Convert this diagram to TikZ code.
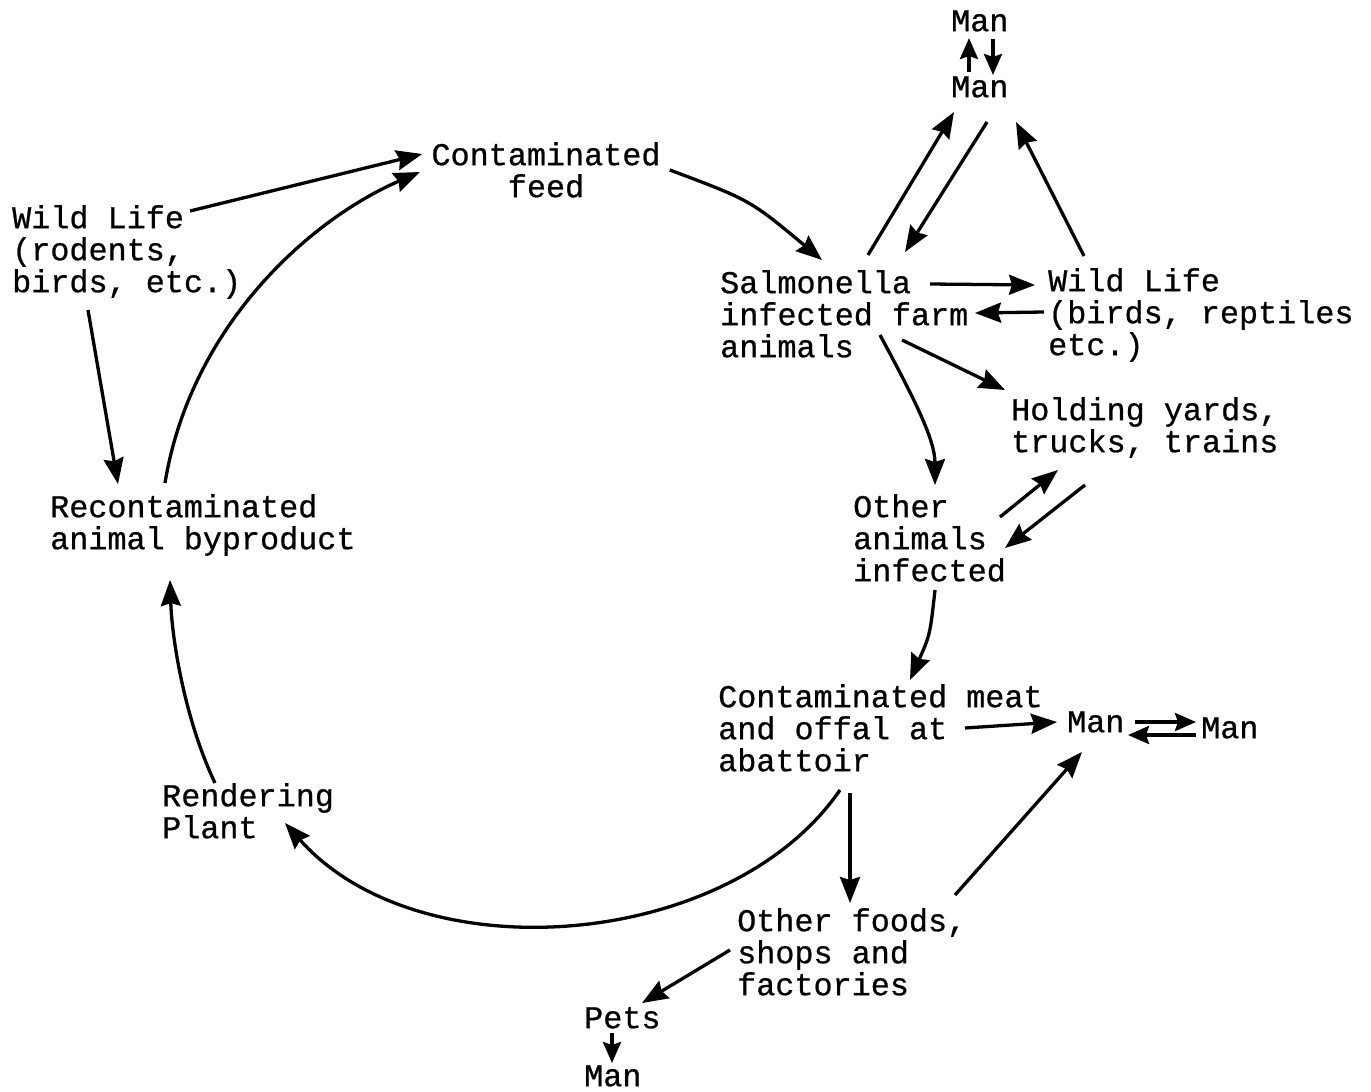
\documentclass[tikz,border=0pt]{standalone}
\usepackage{fontspec}
\newfontfamily\cour[FakeBold=0.7]{Liberation Mono}
\usetikzlibrary{arrows.meta}
\newcommand{\mystrut}{\rule{0pt}{29pt}}
\begin{document}
\lineskiplimit=-20pt\relax
\begin{tikzpicture}[x=1pt,y=-1pt,
  lbl/.style={inner sep=0pt, anchor=north west, align=left,
    font=\cour\fontsize{31.8}{32}\selectfont},
  arr/.style={line width=3.3pt, -{Stealth[length=26pt,width=20pt,inset=3pt]}},
  sarr/.style={line width=3.6pt, -{Stealth[length=21pt,width=18pt,inset=3pt]}}]
\useasboundingbox (0,0) rectangle (1371,1092);
% nodes
\node[lbl] (manA) at (951,2) {\mystrut Man};
\node[lbl] (manB) at (951,68) {\mystrut Man};
\node[lbl, anchor=north, align=center] (feed) at (546,136) {\mystrut Contaminated\\feed};
\node[lbl] (wlL) at (12,199) {\mystrut Wild Life\\(rodents,\\birds, etc.)};
\node[lbl] (sal) at (720,264) {\mystrut Salmonella\\infected farm\\animals};
\node[lbl] (wlR) at (1048,262) {\mystrut Wild Life\\(birds, reptiles\\etc.)};
\node[lbl] (hold) at (1011,391) {\mystrut Holding yards,\\trucks, trains};
\node[lbl] (oth) at (853,488) {\mystrut Other\\animals\\infected};
\node[lbl] (recon) at (50,488) {\mystrut Recontaminated\\animal byproduct};
\node[lbl] (meat) at (718,678) {\mystrut Contaminated meat\\and offal at\\abattoir};
\node[lbl] (manR) at (1067,703) {\mystrut Man};
\node[lbl] (manRR) at (1201,709) {\mystrut Man};
\node[lbl] (rend) at (162,777) {\mystrut Rendering\\Plant};
\node[lbl] (foods) at (737,902) {\mystrut Other foods,\\shops and\\factories};
\node[lbl] (pets) at (584,999) {\mystrut Pets};
\node[lbl] (manP) at (584,1057) {\mystrut Man};
% connectors
\draw[sarr] ([shift={(18,70)}]manA.north west) -- ([shift={(18,36)}]manA.north west);
\draw[sarr] ([shift={(42,37)}]manA.north west) -- ([shift={(42,73)}]manA.north west);
\draw[arr] ([shift={(178,12)}]wlL.north west) -- ([shift={(-9,18)}]feed.north west);
\draw[arr] ([shift={(76,111)}]wlL.north west) -- ([shift={(68,-4)}]recon.north west);
\draw[arr] ([shift={(115,-5)}]recon.north west) .. controls (190,330) and (305,222) .. ([shift={(-11.5,36)}]feed.north west);
\draw[arr] ([shift={(238.5,34)}]feed.north west) .. controls (750,200) .. ([shift={(102,-4)}]sal.north west);
\draw[arr] ([shift={(148,-9)}]sal.north west) -- ([shift={(3,44)}]manB.north west);
\draw[arr] ([shift={(36,54)}]manB.north west) -- ([shift={(185,-12)}]sal.north west);
\draw[arr] ([shift={(36,-6)}]wlR.north west) -- ([shift={(65,54)}]manB.north west);
\draw[arr] ([shift={(210,20)}]sal.north west) -- ([shift={(-13,23)}]wlR.north west);
\draw[arr] ([shift={(-4,50)}]wlR.north west) -- ([shift={(255,49)}]sal.north west);
\draw[arr] ([shift={(182,76)}]sal.north west) -- ([shift={(-6,-1)}]hold.north west);
\draw[arr] ([shift={(160,71)}]sal.north west) .. controls (915,400) and (935,440) .. ([shift={(82,-3)}]oth.north west);
\draw[arr] ([shift={(147,29)}]oth.north west) -- ([shift={(47,79)}]hold.north west);
\draw[arr] ([shift={(74,94)}]hold.north west) -- ([shift={(152,60)}]oth.north west);
\draw[arr] ([shift={(82,102)}]oth.north west) .. controls (930,635) .. ([shift={(192,2)}]meat.north west);
\draw[arr] ([shift={(247,50)}]meat.north west) -- ([shift={(-10,19)}]manR.north west);
\draw[sarr] ([shift={(68,19)}]manR.north west) -- ([shift={(-5,13)}]manRR.north west);
\draw[sarr] ([shift={(-5,26)}]manRR.north west) -- ([shift={(61,32)}]manR.north west);
\draw[arr] ([shift={(132,115)}]meat.north west) -- ([shift={(113,1)}]foods.north west);
\draw[arr] ([shift={(218,-7)}]foods.north west) -- ([shift={(15,49)}]manR.north west);
\draw[arr] ([shift={(-7,48)}]foods.north west) -- ([shift={(58,4)}]pets.north west);
\draw[sarr] ([shift={(28,34)}]pets.north west) -- ([shift={(28,6)}]manP.north west);
\draw[arr] ([shift={(122,112)}]meat.north west) .. controls (730,950) and (420,975) .. ([shift={(123,46)}]rend.north west);
\draw[arr] ([shift={(53,6)}]rend.north west) .. controls (185,720) and (172,640) .. ([shift={(120,92)}]recon.north west);
\end{tikzpicture}
\end{document}
